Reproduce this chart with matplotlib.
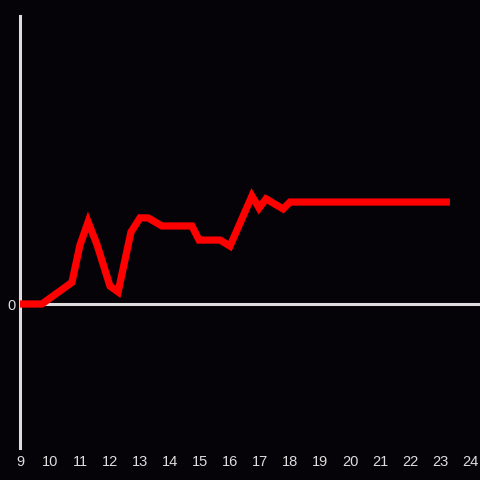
import matplotlib
matplotlib.use("Agg")
import matplotlib.pyplot as plt

hours = [9.0, 9.73, 10.73, 11.0, 11.27, 11.57, 12.0, 12.27, 12.7, 13.0, 13.27, 13.73,
         14.73, 14.97, 15.67, 16.0, 16.73, 16.97, 17.2, 17.77, 18.0, 23.33]
values = [0, 0, 7.5, 20.5, 28.5, 20.5, 6.2, 4.2, 25, 29.9, 29.9, 27.1,
          27.1, 22.2, 22.2, 20.1, 37.5, 33.3, 36.5, 33, 35.4, 35.4]
xticks = list(range(9, 25))

bg = "#050307"
fig = plt.figure(figsize=(4.8, 4.8), dpi=100, facecolor=bg)
ax = fig.add_axes([20/480, 32/480, 460/480, 432/480])
ax.set_facecolor(bg)
ax.set_xlim(9, 24.333)
ax.set_ylim(-50, 100)

for s in ["top", "right", "bottom"]:
    ax.spines[s].set_visible(False)
ax.spines["left"].set_color("#dddddd")
ax.spines["left"].set_linewidth(2.2)

ax.axhline(0, color="#dddddd", lw=2.2, zorder=1)
ax.plot(hours, values, color="#ff0000", lw=5.2, solid_joinstyle="miter",
        solid_capstyle="butt", zorder=3)

ax.set_xticks(xticks)
ax.set_xticklabels([str(t) for t in xticks])
ax.set_yticks([0])
ax.set_yticklabels(["0"])
ax.tick_params(axis="both", length=0, colors="#dddddd", labelsize=10.5)
ax.tick_params(axis="x", pad=5)
ax.tick_params(axis="y", pad=3)
for lab in ax.get_xticklabels() + ax.get_yticklabels():
    lab.set_fontfamily("Liberation Sans")

fig.savefig("out.png", dpi=100, facecolor=bg)
